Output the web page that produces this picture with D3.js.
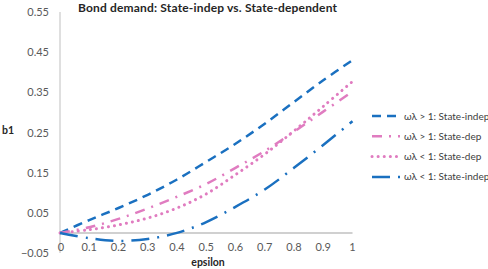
<!DOCTYPE html>
<html>
<head>
<meta charset="utf-8">
<script src="https://cdn.jsdelivr.net/npm/d3@7"></script>
<style>
  body { margin: 0; background: #fff; }
  text { font-family: Lato, "Open Sans", sans-serif; }
</style>
</head>
<body>
<div id="chart"></div>
<script>
const epsilon = [0, 0.1, 0.2, 0.3, 0.4, 0.5, 0.6, 0.7, 0.8, 0.9, 1];
const indepHigh = [0, 0.032, 0.062, 0.095, 0.133, 0.177, 0.222, 0.272, 0.326, 0.38, 0.43];
const depHigh   = [0, 0.014, 0.035, 0.061, 0.09, 0.122, 0.162, 0.204, 0.252, 0.302, 0.352];
const depLow    = [0, 0.008, 0.02, 0.037, 0.062, 0.097, 0.145, 0.196, 0.254, 0.315, 0.377];
const indepLow  = [0, -0.013, -0.02, -0.015, 0.0, 0.027, 0.065, 0.108, 0.162, 0.219, 0.278];
const seriesNames = ["ωλ > 1: State-indep", "ωλ > 1: State-dep", "ωλ < 1: State-dep", "ωλ < 1: State-indep"];
const xTicks = [0, 0.1, 0.2, 0.3, 0.4, 0.5, 0.6, 0.7, 0.8, 0.9, 1];
const yTicks = [-0.05, 0.05, 0.15, 0.25, 0.35, 0.45, 0.55];

const series = [
  { name: seriesNames[0], values: indepHigh, color: "#1a70c0", dash: "9,6", cap: "butt", w: 2.5 },
  { name: seriesNames[1], values: depHigh, color: "#e07cc0", dash: "10,7,2,7", cap: "butt", w: 2.5 },
  { name: seriesNames[2], values: depLow, color: "#e07cc0", dash: "0.1,6", cap: "round", w: 3 },
  { name: seriesNames[3], values: indepLow, color: "#1a70c0", dash: "18,8,2,8", cap: "butt", w: 2.5 }
];

const W = 488, H = 269;
const svg = d3.select("#chart").append("svg")
  .attr("width", W).attr("height", H);

const x = d3.scaleLinear().domain([0, 1]).range([60, 352.5]);
const y = d3.scaleLinear().domain([-0.05, 0.55]).range([253, 12]);

// y axis line
svg.append("line")
  .attr("x1", x(0)).attr("x2", x(0))
  .attr("y1", y(0.55)).attr("y2", y(-0.05))
  .attr("stroke", "#bfbfbf").attr("stroke-width", 1);

// x axis at zero
svg.append("line")
  .attr("x1", x(0)).attr("x2", x(1))
  .attr("y1", y(0)).attr("y2", y(0))
  .attr("stroke", "#d0d0d0").attr("stroke-width", 2);

svg.selectAll(".ytick")
  .data(yTicks)
  .enter().append("text")
  .attr("class", "ytick")
  .attr("x", 49)
  .attr("y", d => y(d) + 4)
  .attr("text-anchor", "end")
  .attr("font-size", 11)
  .attr("fill", "#595959")
  .text(d => d3.format(".2f")(d).replace("-", "\u2212"));

svg.selectAll(".xtick")
  .data(xTicks)
  .enter().append("text")
  .attr("class", "xtick")
  .attr("x", d => x(d) + (d === 0 ? 1 : 0))
  .attr("y", 251)
  .attr("text-anchor", "middle")
  .attr("font-size", 11)
  .attr("fill", "#595959")
  .text(d => d3.format("")(d));

const line = d3.line()
  .x((d, i) => x(epsilon[i]))
  .y(d => y(d))
  .curve(d3.curveCatmullRom);

svg.selectAll(".series")
  .data(series)
  .enter().append("path")
  .attr("class", "series")
  .attr("d", d => line(d.values))
  .attr("fill", "none")
  .attr("stroke", d => d.color)
  .attr("stroke-width", d => d.w)
  .attr("stroke-dasharray", d => d.dash)
  .attr("stroke-linecap", d => d.cap);

// title and axis titles
svg.append("text")
  .attr("x", 78).attr("y", 11.5)
  .attr("font-size", 12).attr("font-weight", "bold")
  .attr("textLength", 259)
  .attr("fill", "#262626")
  .text("Bond demand: State-indep vs. State-dependent");

svg.append("text")
  .attr("x", 2).attr("y", 134)
  .attr("font-size", 10.5).attr("font-weight", "bold")
  .attr("fill", "#262626")
  .text("b1");

svg.append("text")
  .attr("x", 208).attr("y", 266)
  .attr("text-anchor", "middle")
  .attr("font-size", 10.5).attr("font-weight", "bold")
  .attr("fill", "#262626")
  .text("epsilon");

// legend
const legend = svg.selectAll(".legend-item")
  .data(series)
  .enter().append("g")
  .attr("class", "legend-item")
  .attr("transform", (d, i) => `translate(372, ${116 + 20.3 * i})`);

legend.append("line")
  .attr("x1", 0).attr("x2", 28)
  .attr("y1", 0).attr("y2", 0)
  .attr("stroke", d => d.color)
  .attr("stroke-width", d => d.w)
  .attr("stroke-dasharray", d => d.dash)
  .attr("stroke-linecap", d => d.cap);

legend.append("text")
  .attr("x", 32).attr("y", 3.5)
  .attr("font-size", 10)
  .attr("fill", "#404040")
  .text(d => d.name);
</script>
</body>
</html>
